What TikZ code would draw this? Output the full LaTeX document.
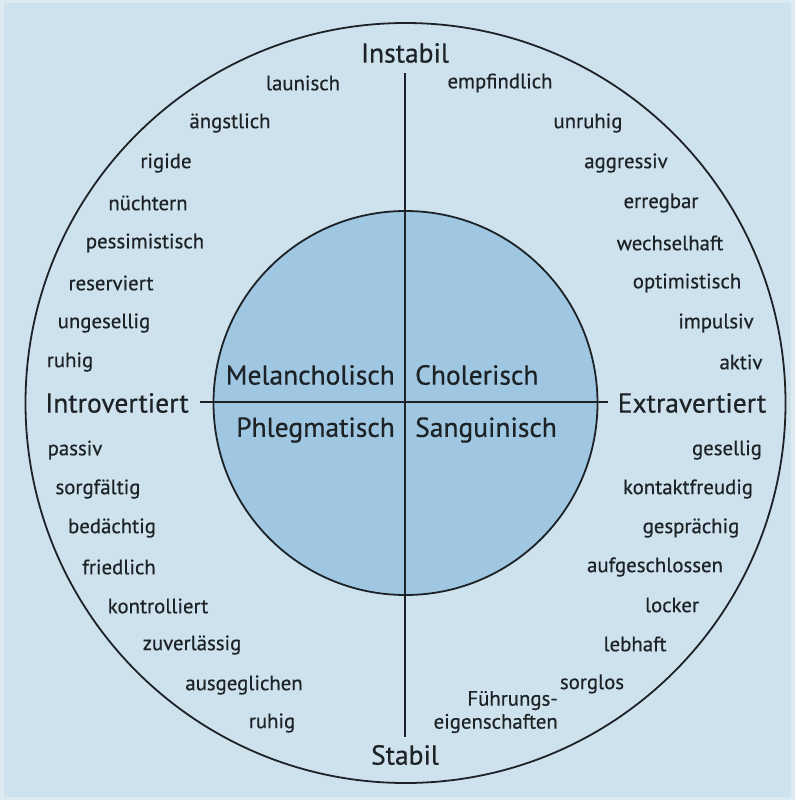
\documentclass[tikz,border=0pt]{standalone}
\usepackage{fontspec}
\setmainfont{PT Sans}[FakeBold=0.5]
\definecolor{paper}{HTML}{DCEAF2}
\definecolor{field}{HTML}{CEE2ED}
\definecolor{core}{HTML}{9FC7E2}
\definecolor{ink}{HTML}{1C2226}
\begin{document}
\begin{tikzpicture}[x=1pt,y=-1pt,
  trait/.style={font=\fontsize{20.8}{23}\selectfont, text=ink, inner sep=0pt},
  pole/.style={font=\fontsize{27.5}{30}\selectfont, text=ink, inner sep=0pt},
  temper/.style={font=\fontsize{27.5}{30}\selectfont, text=ink, inner sep=0pt},
  rim/.style={draw=ink, line width=1.8pt},
  axisline/.style={draw=ink, line width=1.6pt}]
% page and background
\fill[paper] (0,0) rectangle (795,800);
\fill[field] (4,3) rectangle (791,797);
\useasboundingbox (0,0) rectangle (795,800);
% circles
\draw[rim] (405.5,403) circle (380);
\draw[rim, fill=core] (405.5,403) circle (192);
% axes
\coordinate (top) at (405,73);
\coordinate (bottom) at (405,737);
\coordinate (left) at (200,402);
\coordinate (right) at (608,402);
\draw[axisline] (top) -- (bottom);
\draw[axisline] (left) -- (right);
% poles
\node[pole] (instabil) at (405,53) {Instabil};
\node[pole] (stabil) at (405,755) {Stabil};
\node[pole] (intro) at (117,403) {Introvertiert};
\node[pole] (extra) at (692,403) {Extravertiert};
% temperaments
\node[temper, anchor=east] (mel) at (395,375) {Melancholisch};
\node[temper, anchor=west] (chol) at (415,375) {Cholerisch};
\node[temper, anchor=east] (phl) at (395,430) {Phlegmatisch};
\node[temper, anchor=west] (sang) at (415,430) {Sanguinisch};
% unstable / introverted
\node[trait] (t1) at (303,83) {launisch};
\node[trait] (t2) at (230,123) {ängstlich};
\node[trait] (t3) at (166,163) {rigide};
\node[trait] (t4) at (148,203) {nüchtern};
\node[trait] (t5) at (145,243) {pessimistisch};
\node[trait] (t6) at (111,283) {reserviert};
\node[trait] (t7) at (104,323) {ungesellig};
\node[trait] (t8) at (70,362) {ruhig};
% unstable / extraverted
\node[trait] (u1) at (500,83) {empfindlich};
\node[trait] (u2) at (588,123) {unruhig};
\node[trait] (u3) at (626,163) {aggressiv};
\node[trait] (u4) at (661,203) {erregbar};
\node[trait] (u5) at (670,243) {wechselhaft};
\node[trait] (u6) at (687,283) {optimistisch};
\node[trait] (u7) at (716,323) {impulsiv};
\node[trait] (u8) at (741,362) {aktiv};
% stable / introverted
\node[trait] (s1) at (75,450) {passiv};
\node[trait] (s2) at (98,489) {sorgfältig};
\node[trait] (s3) at (112,528) {bedächtig};
\node[trait] (s4) at (119,567) {friedlich};
\node[trait] (s5) at (158,606) {kontrolliert};
\node[trait] (s6) at (192,645) {zuverlässig};
\node[trait] (s7) at (244,685) {ausgeglichen};
\node[trait] (s8) at (272,723) {ruhig};
% stable / extraverted
\node[trait] (e1) at (727,450) {gesellig};
\node[trait] (e2) at (688,489) {kontaktfreudig};
\node[trait] (e3) at (691,528) {gesprächig};
\node[trait] (e4) at (655,567) {aufgeschlossen};
\node[trait] (e5) at (672,605) {locker};
\node[trait] (e6) at (635,644) {lebhaft};
\node[trait] (e7) at (592,684) {sorglos};
\node[trait, anchor=east, align=right, font=\fontsize{20.8}{23}\selectfont] (e8) at (558,712) {Führungs-\\eigenschaften};
\end{tikzpicture}
\end{document}
